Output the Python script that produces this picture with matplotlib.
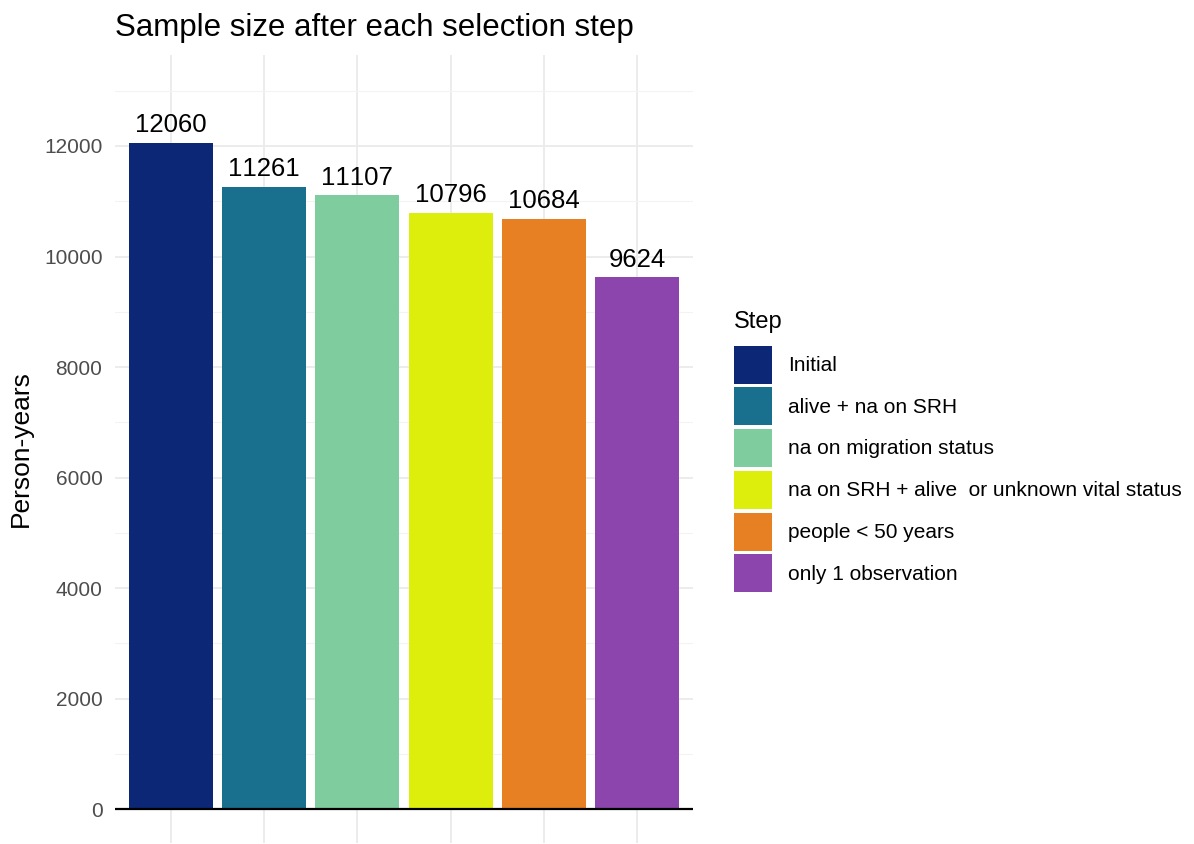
import numpy as np
import matplotlib
matplotlib.use('Agg')
import matplotlib.pyplot as plt
from matplotlib.ticker import MultipleLocator

plt.rcParams['font.family'] = ['Liberation Sans', 'DejaVu Sans']
plt.rcParams['text.kerning_factor'] = 16  # no pair kerning, "11261" stays evenly spaced

# data
steps = ['Initial', 'alive + na on SRH', 'na on migration status',
         'na on SRH + alive  or unknown vital status', 'people < 50 years',
         'only 1 observation']
person_years = [12060, 11261, 11107, 10796, 10684, 9624]
step_colors = ['#0B2775', '#186F8E', '#7FCC9E', '#DDEE0C', '#E68023', '#8C45AC']

fig = plt.figure(figsize=(11.94, 8.44), dpi=100)
ax = fig.add_axes([115 / 1194, 1 - 843 / 844, (693 - 115) / 1194, (843 - 55) / 844])

x = np.arange(1, len(steps) + 1)
bars = ax.bar(x, person_years, width=0.9, color=step_colors, label=steps, zorder=2)
ax.bar_label(bars, labels=[str(v) for v in person_years], padding=4, fontsize=18.5, color='black')

ax.axhline(0, color='black', linewidth=1.6, zorder=3)

ax.set_xlim(0.4, 6.6)
ax.set_ylim(-615, 13647)
ax.set_xticks(x)
ax.set_xticklabels([])
ax.yaxis.set_major_locator(MultipleLocator(2000))
ax.yaxis.set_minor_locator(MultipleLocator(1000))
ax.tick_params(axis='both', which='both', length=0)
ax.tick_params(axis='y', labelsize=15, labelcolor='#4D4D4D', pad=9)
ax.grid(True, which='major', color='#EBEBEB', linewidth=1.3, zorder=0)
ax.grid(True, which='minor', axis='y', color='#F3F3F3', linewidth=0.8, zorder=0)
ax.set_axisbelow(True)
for s in ax.spines.values():
    s.set_visible(False)

ax.set_ylabel('Person-years', fontsize=19, labelpad=8)
ax.set_title('Sample size after each selection step', fontsize=22.5, loc='left', pad=14)

# legend keys ~38px squares, like ggplot's enlarged keys
leg = fig.legend(handles=bars.patches, labels=steps, loc='upper left',
                 bbox_to_anchor=(734 / 1194, 1 - 311 / 844), frameon=False,
                 fontsize=15, title='Step', title_fontsize=17, alignment='left',
                 handlelength=1.83, handleheight=2.43, labelspacing=0.18,
                 handletextpad=0.75, borderpad=0, borderaxespad=0)
leg._legend_box.sep = 9  # gap between title and keys

fig.savefig('out.png', dpi=100)
